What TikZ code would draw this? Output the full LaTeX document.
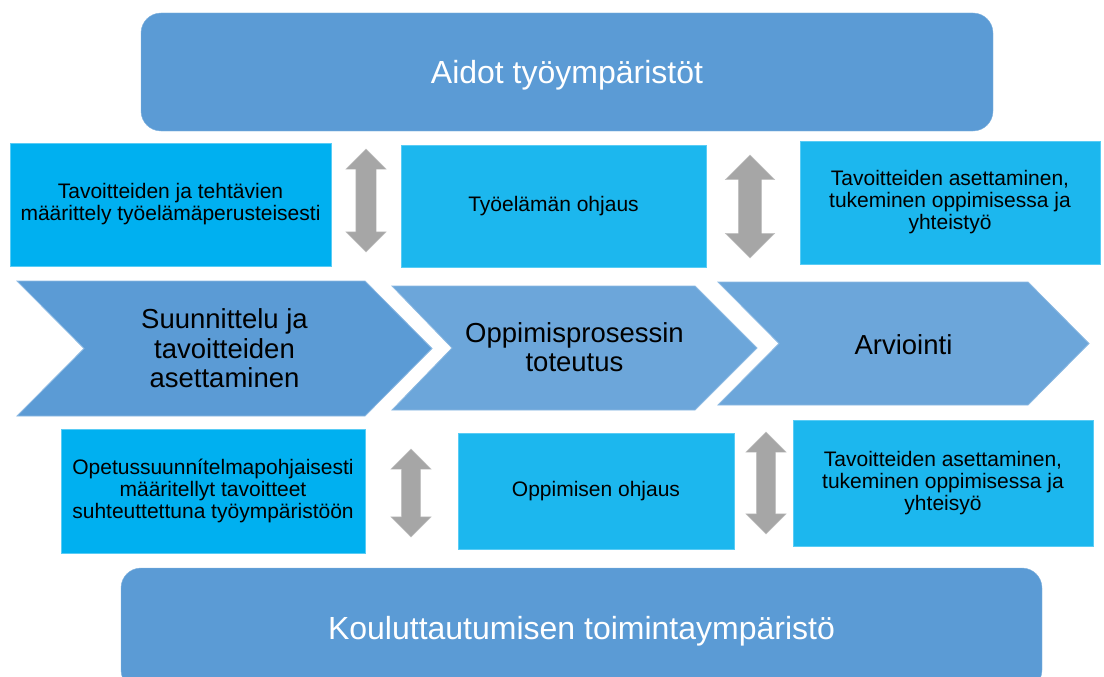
\documentclass[tikz,border=0pt]{standalone}
\usepackage{fontspec}
\setmainfont{Liberation Sans}
\usepackage{tikz}
\usetikzlibrary{shapes.arrows}

\definecolor{envblue}{HTML}{5B9BD5}
\definecolor{stepblue}{HTML}{6CA6DA}
\definecolor{boxcyan}{HTML}{00B0F0}
\definecolor{boxcyanlight}{HTML}{1CB7EE}
\definecolor{arrowgray}{HTML}{A6A6A6}

\begin{document}
\begin{tikzpicture}[x=1pt, y=-1pt,
    env/.style={draw=envblue!75!white, fill=envblue, rounded corners=20pt, text=white, inner sep=0pt, font=\fontsize{32}{36}\selectfont},
    taskbox/.style={draw=boxcyan!65!white, fill=boxcyanlight, align=center, inner sep=0pt, font=\fontsize{21}{22}\selectfont},
    chev/.style={draw=envblue!70!white, line width=0.8pt},
    chevtext/.style={align=center, font=\fontsize{27.5}{29.5}\selectfont},
    updown/.style={double arrow, rotate=90, draw=arrowgray!70!white, fill=arrowgray, inner xsep=0pt, double arrow head indent=0pt}]
  \clip (0,0) rectangle (1104,677);

  % Environments
  \node[env, minimum width=852pt, minimum height=118pt] (work) at (567,72) {};
  \node[text=white, font=\fontsize{32}{36}\selectfont] (worktext) at (567,75.5) {Aidot työympäristöt};
  \node[env, minimum width=921pt, minimum height=122pt] (school) at (581.5,629) {};
  \node[text=white, font=\fontsize{32}{36}\selectfont] (schooltext) at (581.5,631) {Kouluttautumisen toimintaympäristö};

  % Upper row
  \node[taskbox, fill=boxcyan, minimum width=321pt, minimum height=123pt] (wdefine) at (170.5,204.5) {Tavoitteiden ja tehtävien\\määrittely työelämäperusteisesti};
  \node[taskbox, minimum width=305pt, minimum height=122pt] (wguide) at (553.5,206) {Työelämän ohjaus};
  \node[taskbox, minimum width=300pt, minimum height=123pt] (wsupport) at (950,202.5) {Tavoitteiden asettaminen,\\tukeminen oppimisessa ja\\yhteistyö};

  % Process steps
  \filldraw[chev, fill=envblue] (17,281) -- (365,281) -- (432,348.5) -- (365,416) -- (17,416) -- (84,348.5) -- cycle;
  \node[chevtext] (plan) at (224.5,348.5) {Suunnittelu ja\\tavoitteiden\\asettaminen};
  \filldraw[chev, fill=stepblue] (392,286) -- (695,286) -- (757,348) -- (695,410) -- (392,410) -- (452,348) -- cycle;
  \node[chevtext] (learn) at (574.5,347) {Oppimisprosessin\\toteutus};
  \filldraw[chev, fill=stepblue] (718,282) -- (1028,282) -- (1089,343.5) -- (1028,405) -- (718,405) -- (779,343.5) -- cycle;
  \node[chevtext] (assess) at (903.5,345) {Arviointi};

  % Lower row
  \node[taskbox, fill=boxcyan, minimum width=304pt, minimum height=124pt] (sdefine) at (213,491) {Opetussuunnítelmapohjaisesti\\määritellyt tavoitteet\\suhteuttettuna työympäristöön};
  \node[taskbox, minimum width=276pt, minimum height=116pt] (sguide) at (596,491) {Oppimisen ohjaus};
  \node[taskbox, minimum width=300pt, minimum height=126pt] (ssupport) at (943,483) {Tavoitteiden asettaminen,\\tukeminen oppimisessa ja\\yhteisyö};

  % Two-way arrows
  \foreach \nm/\cx/\cy/\len/\wd/\bw/\ext in {ud1/366/200.5/103pt/40pt/10pt/10pt, ud2/750/206.5/103pt/49pt/11.5pt/13pt, ud3/411/493/88pt/40pt/9.5pt/10.5pt, ud4/766/483/102pt/40pt/9.5pt/10.5pt}
    \node[updown, minimum height=\len, minimum width=\wd, inner ysep=\bw, double arrow head extend=\ext] (\nm) at (\cx,\cy) {};
\end{tikzpicture}
\end{document}
